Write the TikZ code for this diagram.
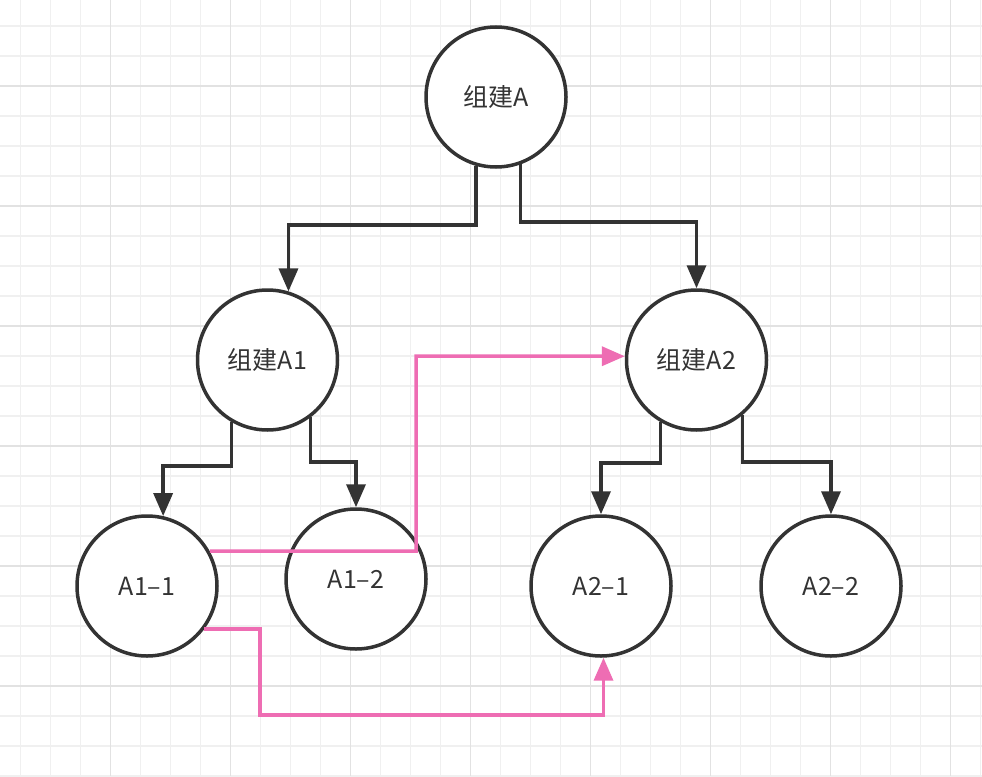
\documentclass[tikz,border=0pt]{standalone}
\usepackage{fontspec}
\newfontfamily\cjk{Noto Sans CJK SC}
\usetikzlibrary{arrows.meta}
\definecolor{ink}{HTML}{333333}
\definecolor{linkpink}{HTML}{EE6DB3}
\definecolor{gridminor}{HTML}{F0F0F0}
\definecolor{gridmajor}{HTML}{E2E2E2}
\tikzset{
  comp/.style={circle, draw=ink, line width=3.5pt, fill=white, minimum size=140pt,
    inner sep=0pt, text=ink, font=\cjk\fontsize{25}{29}\selectfont},
  tree/.style={draw=ink, line width=3.5pt, -{Triangle[length=23pt,width=19pt]}},
  cross/.style={draw=linkpink, line width=3.5pt, -{Triangle[length=23pt,width=19pt]}}
}

\begin{document}
\begin{tikzpicture}[x=1pt,y=-1pt]
  \useasboundingbox (0,0) rectangle (982,776);
  \fill[white] (0,0) rectangle (982,776);
  \foreach \gx in {20.7,50.7,...,981} \draw[gridminor, line width=1.3pt] (\gx,0) -- (\gx,776);
  \foreach \gy in {26,56,...,776} \draw[gridminor, line width=1.3pt] (0,\gy) -- (982,\gy);
  \foreach \gx in {110.7,230.7,...,981} \draw[gridmajor, line width=1.5pt] (\gx,0) -- (\gx,776);
  \foreach \gy in {86,206,...,776} \draw[gridmajor, line width=1.5pt] (0,\gy) -- (982,\gy);

  \node[comp] (compA) at (496,97) {组建A};
  \node[comp] (compA1) at (267.5,360) {组建A1};
  \node[comp] (compA2) at (696.5,360) {组建A2};
  \node[comp] (a11) at (147,586) {A1–1};
  \node[comp] (a12) at (356,579) {A1–2};
  \node[comp] (a21) at (601,586) {A2–1};
  \node[comp] (a22) at (831,586) {A2–2};

  \draw[tree] (compA.-106) |- (compA1.73 |- 0,225) -- (compA1.73);
  \draw[tree] (compA.-70) |- (compA2.north |- 0,222) -- (compA2.north);
  \draw[tree] (compA1.-120) |- (a11.77 |- 0,466) -- (a11.77);
  \draw[tree] (compA1.-53) |- (a12.north |- 0,462) -- (a12.north);
  \draw[tree] (compA2.-120) |- (a21.north |- 0,463) -- (a21.north);
  \draw[tree] (compA2.-50) |- (a22.north |- 0,462) -- (a22.north);

  \draw[cross] (a11.29) -| (416,356) -- (compA2.177);
  \draw[cross] (a11.-37) -| (260,715) -| (a21.-88);
\end{tikzpicture}
\end{document}
